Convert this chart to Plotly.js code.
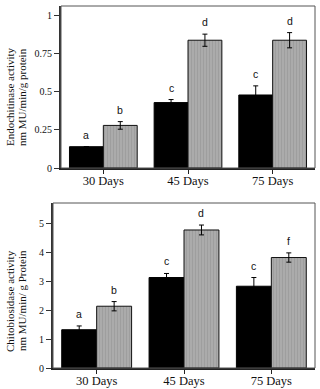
<!DOCTYPE html>
<html>
<head>
<meta charset="utf-8">
<script src="https://cdn.plot.ly/plotly-3.0.1.min.js"></script>
<style>
  html, body { margin: 0; padding: 0; background: #fff; }
  #chart { width: 320px; height: 389px; }
</style>
</head>
<body>
<div id="chart"></div>
<script>
// Sampling ages
const categories = ['30 Days', '45 Days', '75 Days'];

// Endochitinase activity (nm MU/min/g protein)
const endoDark = [0.14, 0.43, 0.48];
const endoDarkErr = [0, 0.02, 0.06];
const endoGrey = [0.28, 0.84, 0.84];
const endoGreyErr = [0.025, 0.04, 0.05];
const endoDarkLetters = ['a', 'c', 'c'];
const endoGreyLetters = ['b', 'd', 'd'];

// Chitobiosidase activity (nm MU/min/ g Protein)
const chitoDark = [1.32, 3.12, 2.82];
const chitoDarkErr = [0.13, 0.14, 0.3];
const chitoGrey = [2.13, 4.76, 3.81];
const chitoGreyErr = [0.16, 0.17, 0.16];
const chitoDarkLetters = ['a', 'c', 'c'];
const chitoGreyLetters = ['b', 'd', 'f'];

// Axis ticks
const endoTicks = [0, 0.25, 0.5, 0.75, 1];
const endoTickText = ['0', '0.25', '0.5', '0.75', '1'];
const chitoTicks = [0, 1, 2, 3, 4, 5];

const serif = 'Liberation Serif, Times New Roman, serif';
const sans = 'Liberation Sans, Arial, sans-serif';

const darkMarker = { color: '#000', line: { color: '#000', width: 1 } };
const greyMarker = {
  color: '#a6a6a6',
  line: { color: '#111', width: 1 },
  pattern: { shape: '|', bgcolor: '#ababab', fgcolor: '#9d9d9d', size: 3, solidity: 0.3 }
};
const errStyle = (arr) => ({ type: 'data', array: arr, visible: true, color: '#000', thickness: 1, width: 2.5 });

function bars(y, err, marker, xa, ya) {
  return {
    type: 'bar', x: categories, y: y, marker: marker,
    error_y: errStyle(err), xaxis: xa, yaxis: ya, showlegend: false, hoverinfo: 'skip'
  };
}

const data = [
  bars(endoDark, endoDarkErr, darkMarker, 'x', 'y'),
  bars(endoGrey, endoGreyErr, greyMarker, 'x', 'y'),
  bars(chitoDark, chitoDarkErr, darkMarker, 'x2', 'y2'),
  bars(chitoGrey, chitoGreyErr, greyMarker, 'x2', 'y2')
];

// Significance letters sit above each bar's error cap
function letters(vals, errs, labels, offset, xref, yref) {
  return labels.map((t, i) => ({
    text: t, xref: xref, yref: yref, x: i + offset, y: vals[i] + errs[i],
    yanchor: 'bottom', yshift: 4, showarrow: false,
    font: { family: sans, size: 10.5, color: '#111' }
  }));
}

// Two-line axis captions
function caption(lines, xs, yc) {
  return lines.map((t, k) => ({
    text: t, xref: 'paper', yref: 'paper', x: xs[k], y: yc,
    xanchor: 'center', yanchor: 'middle', textangle: -90, showarrow: false,
    font: { family: serif, size: 11, color: '#111' }
  }));
}

const W = 320, H = 389;
const annotations = [].concat(
  letters(endoDark, endoDarkErr, endoDarkLetters, -0.2, 'x', 'y'),
  letters(endoGrey, endoGreyErr, endoGreyLetters, 0.2, 'x', 'y'),
  letters(chitoDark, chitoDarkErr, chitoDarkLetters, -0.2, 'x2', 'y2'),
  letters(chitoGrey, chitoGreyErr, chitoGreyLetters, 0.2, 'x2', 'y2'),
  caption(['Endochitinase activity', 'nm MU/min/g protein'], [10 / W, 22 / W], 1 - 97 / H),
  caption(['Chitobiosidase activity', 'nm MU/min/ g Protein'], [10 / W, 22 / W], 1 - 301 / H)
);

const frame = (xr, yr) => ({
  type: 'rect', xref: xr + ' domain', yref: yr + ' domain', x0: 0, x1: 1, y0: 0, y1: 1,
  line: { color: '#555', width: 1 }, layer: 'above'
});

const xCommon = {
  type: 'category', range: [-0.5, 2.5], showline: true, linecolor: '#222', linewidth: 1.5,
  ticks: 'outside', ticklen: 4, tickcolor: '#222', showgrid: false, zeroline: false,
  ticklabelstandoff: -4,
  tickfont: { family: serif, size: 12.5, color: '#111' }, fixedrange: true
};
const yCommon = {
  showline: true, linecolor: '#333', linewidth: 2, ticks: 'outside', ticklen: 5, tickcolor: '#333',
  showgrid: false, zeroline: false, tickfont: { family: serif, size: 10, color: '#111' }, fixedrange: true
};

const layout = {
  width: W, height: H,
  margin: { l: 0, r: 0, t: 0, b: 0 },
  paper_bgcolor: '#fff', plot_bgcolor: '#fff',
  barmode: 'group', bargap: 0.2, bargroupgap: 0,
  xaxis: Object.assign({}, xCommon, { domain: [61 / W, 315 / W], anchor: 'y' }),
  yaxis: Object.assign({}, yCommon, {
    domain: [1 - 168 / H, 1 - 6 / H], range: [0, 1.065], anchor: 'x',
    tickvals: endoTicks, ticktext: endoTickText
  }),
  xaxis2: Object.assign({}, xCommon, { domain: [53 / W, 315 / W], anchor: 'y2' }),
  yaxis2: Object.assign({}, yCommon, {
    domain: [1 - 368 / H, 1 - 203 / H], range: [0, 5.69], anchor: 'x2',
    tickvals: chitoTicks
  }),
  shapes: [frame('x', 'y'), frame('x2', 'y2')],
  annotations: annotations
};

Plotly.newPlot('chart', data, layout, { staticPlot: true, displayModeBar: false });
</script>
</body>
</html>
